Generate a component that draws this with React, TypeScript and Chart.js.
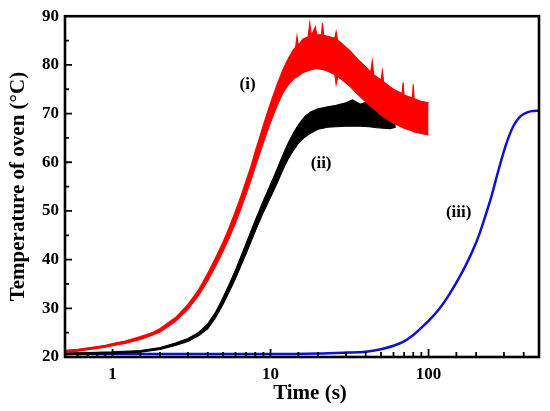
import React, { useEffect, useRef } from 'react';
import { Chart, registerables } from 'chart.js';

Chart.register(...registerables);

// curve (i): noisy red trace, kept as lower / upper edge of the band
const redTime = [
  0.5, 0.6, 0.7, 0.8, 0.9, 1, 1.2, 1.5, 1.8, 2, 2.5, 3, 3.5, 4, 4.5, 5, 5.5, 6, 6.5, 7, 7.5, 8, 8.5, 9, 9.5,
  10, 11, 12, 13, 14, 14.4, 14.7, 15, 16, 17.3, 17.7, 18.1, 19.2, 19.6, 21, 21.3, 21.7, 23, 25.5, 26, 26.6,
  28, 32, 36, 40, 43, 44, 45, 50, 51, 52, 60, 68, 69, 70, 79, 80, 81, 90, 100,
];
const redLow = [
  21.0, 21.2, 21.5, 21.75, 22.0, 22.3, 22.8, 23.6, 24.5, 25.15, 27.3, 29.8, 32.6, 35.6, 38.7, 41.7, 44.6, 47.5,
  50.5, 53.4, 56.2, 59.0, 61.6, 64.0, 66.2, 68.2, 71.6, 74.3, 76.0, 77.1, 77.4, 77.5, 77.7, 78.4, 78.8, 78.9,
  79.0, 79.2, 79.2, 79.1, 79.0, 79.0, 78.7, 78.0, 76.0, 77.6, 77.1, 75.5, 73.8, 72.4, 71.5, 71.2, 71.0, 69.7,
  69.5, 69.3, 68.0, 67.2, 67.1, 67.0, 66.4, 66.3, 66.2, 65.9, 65.6,
];
const redHigh = [
  21.4, 21.6, 21.9, 22.15, 22.4, 22.75, 23.3, 24.2, 25.1, 25.85, 28.1, 30.8, 33.8, 37.2, 40.5, 43.6, 46.8, 50.0,
  53.1, 56.2, 59.1, 62.3, 65.0, 67.6, 70.0, 72.2, 76.0, 79.1, 81.4, 83.2, 83.6, 85.9, 84.0, 85.3, 85.8, 88.6,
  86.0, 87.8, 86.2, 86.2, 88.6, 86.1, 85.9, 85.5, 86.8, 85.1, 84.5, 82.8, 81.0, 79.6, 78.5, 80.8, 78.0, 76.9,
  78.8, 76.5, 75.0, 74.1, 76.4, 73.8, 73.2, 76.0, 73.1, 72.5, 72.2,
];

// curve (ii)
const blackTime = [
  0.5, 0.7, 1, 1.5, 2, 2.5, 3, 3.5, 4, 4.5, 5, 5.5, 6, 7, 8, 9, 10, 11, 12, 13, 14, 15, 16.5, 18, 20, 23, 26,
  30, 33, 37, 42, 47, 52, 57, 62,
];
const blackLow = [
  20.45, 20.55, 20.7, 21.0, 21.55, 22.35, 23.2, 24.35, 25.8, 28.1, 30.8, 33.5, 36.1, 41.2, 45.8, 49.7, 52.8,
  55.7, 58.5, 60.8, 62.5, 63.9, 65.2, 66.0, 66.8, 67.2, 67.3, 67.4, 67.4, 67.4, 67.3, 67.1, 67.0, 66.9, 67.2,
];
const blackHigh = [
  20.8, 20.9, 21.05, 21.35, 21.95, 22.85, 23.8, 25.05, 26.8, 29.3, 32.2, 35.1, 37.9, 43.3, 48.1, 52.1, 55.5,
  58.6, 61.6, 64.1, 66.1, 67.7, 69.4, 70.4, 71.0, 71.4, 71.7, 72.2, 72.8, 71.9, 72.6, 71.4, 70.8, 70.2, 69.6,
];

// curve (iii)
const blueTime = [
  0.5, 1, 2, 5, 10, 20, 30, 40, 50, 60, 70, 80, 90, 100, 115, 130, 150, 170, 190, 210, 230, 250, 275, 300,
  320, 345, 375, 400, 425, 450, 480, 500,
];
const blueTemp = [
  20.6, 20.6, 20.6, 20.6, 20.6, 20.7, 20.9, 21.1, 21.6, 22.3, 23.2, 24.5, 26.0, 27.4, 29.6, 32.0, 35.3, 38.5,
  41.8, 45.3, 49.2, 53.0, 58.0, 62.3, 65.0, 67.5, 69.2, 69.9, 70.3, 70.5, 70.6, 70.6,
];

const xTickLabels = [1, 10, 100];
const curveNames = ['(i)', '(ii)', '(iii)'];
const curveNameTime = [7.15, 20.9, 155];
const curveNameTemp = [75.9, 59.7, 49.7];

const SERIF = '"Liberation Serif", "Times New Roman", serif';

const pts = (xs: number[], ys: number[]) => xs.map((x, i) => ({ x, y: ys[i] }));
const isDecade = (v: number) => xTickLabels.some((d) => Math.abs(v - d) < 1e-9);

const framePlugin = {
  id: 'frameAndTicks',
  afterDraw(chart: any) {
    const { ctx, chartArea: a, scales } = chart;
    const xs = scales.x;
    const ys = scales.y;
    ctx.save();
    ctx.strokeStyle = '#000';
    ctx.lineWidth = 1.8;
    ctx.beginPath();
    xs.ticks.forEach((t: any) => {
      const px = xs.getPixelForValue(t.value);
      if (px <= a.left + 1 || px >= a.right - 1) return;
      const len = isDecade(t.value) ? 8 : 5;
      ctx.moveTo(px, a.bottom);
      ctx.lineTo(px, a.bottom - len);
    });
    ys.ticks.forEach((t: any) => {
      const py = ys.getPixelForValue(t.value);
      if (py <= a.top + 1 || py >= a.bottom - 1) return;
      const len = t.value % 10 === 0 ? 7 : 4;
      ctx.moveTo(a.left, py);
      ctx.lineTo(a.left + len, py);
    });
    ctx.stroke();

    ctx.lineWidth = 2.6;
    ctx.strokeRect(a.left, a.top, a.right - a.left, a.bottom - a.top);

    ctx.fillStyle = '#000';
    ctx.textAlign = 'center';
    ctx.textBaseline = 'middle';
    ctx.font = `bold 17px ${SERIF}`;
    curveNames.forEach((name, i) => {
      ctx.fillText(name, xs.getPixelForValue(curveNameTime[i]), ys.getPixelForValue(curveNameTemp[i]));
    });

    ctx.font = `bold 21px ${SERIF}`;
    ctx.fillText('Time (s)', (a.left + a.right) / 2 + 8, a.bottom + 37);
    ctx.translate(a.left - 46, (a.top + a.bottom) / 2);
    ctx.rotate(-Math.PI / 2);
    ctx.fillText('Temperature of oven (\u00B0C)', 0, 0);
    ctx.restore();
  },
};

export default function App() {
  const canvasRef = useRef<HTMLCanvasElement>(null);
  const chartInstance = useRef<Chart | null>(null);

  useEffect(() => {
    if (!canvasRef.current) return;
    const ctx = canvasRef.current.getContext('2d');
    if (!ctx) return;

    const band = { pointRadius: 0, borderWidth: 1.1, tension: 0 };

    chartInstance.current = new Chart(ctx, {
      type: 'line',
      data: {
        datasets: [
          { ...band, data: pts(redTime, redLow), borderColor: '#ff0000', fill: false, order: 0 },
          { ...band, data: pts(redTime, redHigh), borderColor: '#ff0000', backgroundColor: '#ff0000', fill: '-1', order: 0 },
          { ...band, data: pts(blackTime, blackLow), borderColor: '#000000', fill: false, order: 1 },
          { ...band, data: pts(blackTime, blackHigh), borderColor: '#000000', backgroundColor: '#000000', fill: '-1', order: 1 },
          {
            data: pts(blueTime, blueTemp),
            borderColor: '#1010d4',
            borderWidth: 2.5,
            pointRadius: 0,
            tension: 0.3,
            fill: false,
            order: 2,
          },
        ],
      },
      options: {
        animation: false,
        responsive: true,
        maintainAspectRatio: false,
        layout: { padding: { left: 0, right: 11, top: 15, bottom: 0 } },
        plugins: { legend: { display: false }, tooltip: { enabled: false } },
        scales: {
          x: {
            type: 'logarithmic',
            min: 0.5,
            max: 500,
            grid: { display: false, drawTicks: false },
            border: { display: false },
            ticks: {
              autoSkip: false,
              maxRotation: 0,
              padding: 7,
              color: '#000',
              font: { family: SERIF, size: 17, weight: 'bold' },
              callback: (v: any) => (isDecade(Number(v)) ? String(v) : ''),
            },
            afterFit: (s: any) => {
              s.height = 54;
            },
          },
          y: {
            min: 20,
            max: 90,
            grid: { display: false, drawTicks: false },
            border: { display: false },
            ticks: {
              stepSize: 5,
              padding: 6,
              color: '#000',
              font: { family: SERIF, size: 17, weight: 'bold' },
              callback: (v: any) => (Number(v) % 10 === 0 ? String(v) : ''),
            },
            afterFit: (s: any) => {
              s.width = 65;
            },
          },
        },
      },
      plugins: [framePlugin],
    });

    return () => {
      chartInstance.current?.destroy();
    };
  }, []);

  return (
    <div style={{ position: 'absolute', left: 0, top: 0, width: '550px', height: '411px', background: '#fff' }}>
      <canvas ref={canvasRef} />
    </div>
  );
}
